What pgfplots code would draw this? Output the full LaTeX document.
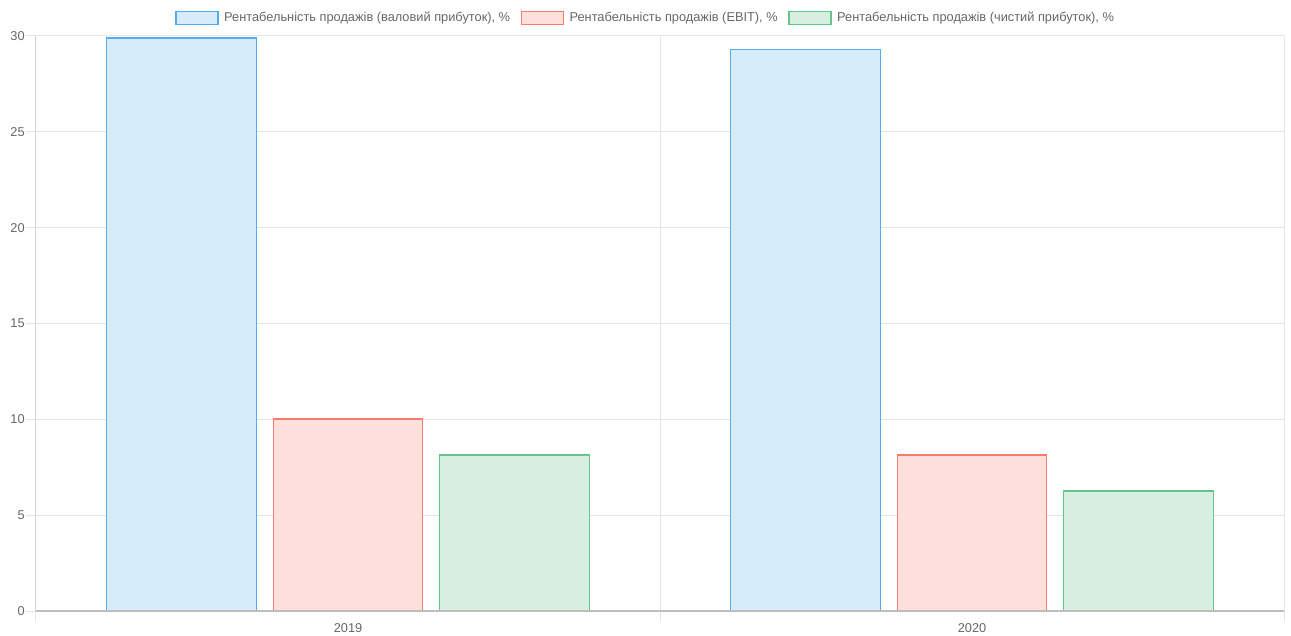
\documentclass[border=0pt]{standalone}
\usepackage{fontspec}
\setmainfont{Liberation Sans}
\usepackage{pgfplots}
\pgfplotsset{compat=1.18}
\definecolor{blueB}{RGB}{84,172,235}
\definecolor{blueF}{RGB}{215,236,251}
\definecolor{redB}{RGB}{245,125,108}
\definecolor{redF}{RGB}{255,224,219}
\definecolor{greenB}{RGB}{100,196,140}
\definecolor{greenF}{RGB}{215,239,225}
\definecolor{gridc}{RGB}{229,229,229}
\definecolor{axc}{RGB}{190,190,190}
\definecolor{labc}{RGB}{102,102,102}
\pgfplotsset{
  mybar/.style={ybar, bar width=0.24, line width=0.9pt,
    legend image code/.code={\draw[##1, line width=0.9pt] (0pt,-4.9pt) rectangle (31.5pt,4.9pt);}},
}
\begin{document}
\begin{tikzpicture}
\useasboundingbox (-27pt,-18pt) rectangle (941.25pt,458.25pt);
\begin{axis}[
  at={(0,0)}, anchor=south west, scale only axis,
  width=936pt, height=431.25pt,
  xmin=-0.5, xmax=1.5, ymin=0, ymax=30,
  ytick={0,5,...,30},
  xtick={0,1}, xticklabels={2019,2020},
  minor xtick={-0.5,0.5,1.5},
  ymajorgrids, xminorgrids,
  grid style={draw=gridc, line width=0.75pt},
  axis x line*=bottom, axis y line*=left,
  x axis line style={draw=axc, line width=0.75pt, -},
  y axis line style={draw=gridc!60!axc, line width=0.75pt, -},
  tick align=outside,
  major tick length=7.5pt, minor tick length=7.5pt,
  major x tick style={draw=none},
  minor x tick style={draw=gridc, line width=0.75pt},
  y tick style={draw=gridc, line width=0.75pt},
  /pgf/number format/assume math mode=true,
  ticklabel style={font=\fontsize{9.6}{11.5}\selectfont, text=labc},
  yticklabel style={inner sep=0.8pt},
  xticklabel style={inner sep=1.5pt},
  legend style={at={(axis description cs:0.5,1)}, anchor=center,
    yshift=13.5pt, xshift=-10.5pt, draw=none, fill=none,
    font=\fontsize{9.6}{11.5}\selectfont, text=labc,
    /tikz/every odd column/.append style={column sep=2.2pt},
    /tikz/every even column/.append style={column sep=6pt}},
  legend columns=3, legend cell align=left,
]
\addplot[mybar, bar shift=-0.266667, draw=blueB, fill=blueF] coordinates {(0,29.9) (1,29.3)};
\addlegendentry{Рентабельність продажів (валовий прибуток), \%}
\addplot[mybar, bar shift=0, draw=redB, fill=redF] coordinates {(0,10.02) (1,8.14)};
\addlegendentry{Рентабельність продажів (EBIT), \%}
\addplot[mybar, bar shift=0.266667, draw=greenB, fill=greenF] coordinates {(0,8.14) (1,6.26)};
\addlegendentry{Рентабельність продажів (чистий прибуток), \%}
\draw[axc, line width=0.9pt] (axis cs:-0.5,0) -- (axis cs:1.5,0);
\end{axis}
\end{tikzpicture}
\end{document}
